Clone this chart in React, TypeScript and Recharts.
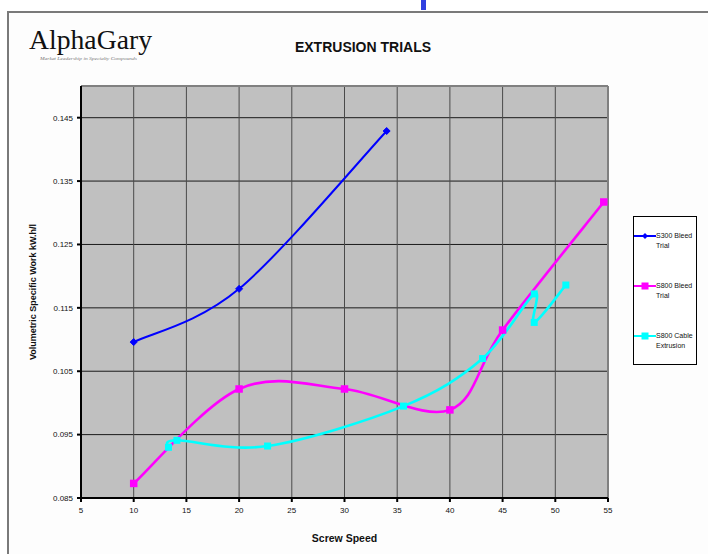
import React from 'react';
import { LineChart, Line, XAxis, YAxis, CartesianGrid, ReferenceLine, Label } from 'recharts';

// Screw speed (rpm) vs volumetric specific work (kW.h/l) per trial
const s300SpeedValues = [10, 20, 34];
const s300WorkValues = [0.1096, 0.118, 0.1429];

const s800BleedSpeedValues = [10, 20, 30, 40, 45, 54.6];
const s800BleedWorkValues = [0.0873, 0.1022, 0.1022, 0.0989, 0.1115, 0.1317];

const s800CableSpeedValues = [13.3, 14.1, 22.7, 35.6, 43.1, 48, 48, 51];
const s800CableWorkValues = [0.093, 0.0941, 0.0932, 0.0995, 0.107, 0.1172, 0.1127, 0.1186];

const seriesNames = ['S300 Bleed Trial', 'S800 Bleed Trial', 'S800 Cable Extrusion'];
const seriesLegendLines = [['S300 Bleed', 'Trial'], ['S800 Bleed', 'Trial'], ['S800 Cable', 'Extrusion']];
const seriesColors = ['#0000ff', '#ff00ff', '#00ffff'];

const xTicks = [5, 10, 15, 20, 25, 30, 35, 40, 45, 50, 55];
const yTicks = [0.085, 0.095, 0.105, 0.115, 0.125, 0.135, 0.145];
const yDomain = [0.085, 0.15];

const chartTitle = 'EXTRUSION TRIALS';
const xAxisTitle = 'Screw Speed';
const yAxisTitle = 'Volumetric Specific Work kW.h/l';

const zip = (xs: number[], ys: number[]) => xs.map((x, i) => ({ x, y: ys[i] }));
const s300Data = zip(s300SpeedValues, s300WorkValues);
const s800BleedData = zip(s800BleedSpeedValues, s800BleedWorkValues);
const s800CableData = zip(s800CableSpeedValues, s800CableWorkValues);

const FONT = "Arial, 'Liberation Sans', sans-serif";

// Spreadsheet-style smoothed line: cubic Bezier segments whose control
// points follow the neighbouring points (uniform Catmull-Rom).
const smoothCurve = (context: any) => {
  let pts: [number, number][] = [];
  return {
    areaStart() {},
    areaEnd() {},
    lineStart() {
      pts = [];
    },
    point(x: number, y: number) {
      pts.push([+x, +y]);
    },
    lineEnd() {
      const n = pts.length;
      if (!n) return;
      context.moveTo(pts[0][0], pts[0][1]);
      for (let i = 0; i < n - 1; i++) {
        const p0 = pts[i - 1] || pts[i];
        const p1 = pts[i];
        const p2 = pts[i + 1];
        const p3 = pts[i + 2] || p2;
        context.bezierCurveTo(
          p1[0] + (p2[0] - p0[0]) / 6,
          p1[1] + (p2[1] - p0[1]) / 6,
          p2[0] - (p3[0] - p1[0]) / 6,
          p2[1] - (p3[1] - p1[1]) / 6,
          p2[0],
          p2[1]
        );
      }
    },
  };
};

const diamondDot = (color: string, r: number) => (props: any) => {
  const { cx, cy, index } = props;
  if (cx == null || cy == null) return <g key={index} />;
  return (
    <polygon
      key={index}
      points={`${cx},${cy - r} ${cx + r},${cy} ${cx},${cy + r} ${cx - r},${cy}`}
      fill={color}
      stroke={color}
    />
  );
};

const squareDot = (color: string, s: number) => (props: any) => {
  const { cx, cy, index } = props;
  if (cx == null || cy == null) return <g key={index} />;
  return <rect key={index} x={cx - s / 2} y={cy - s / 2} width={s} height={s} fill={color} />;
};

const LegendSwatch = ({ color, kind }: { color: string; kind: 'diamond' | 'square' }) => (
  <svg width={22} height={10} style={{ display: 'block' }}>
    <line x1={0} y1={5} x2={22} y2={5} stroke={color} strokeWidth={2} />
    {kind === 'diamond' ? (
      <polygon points="11,2 14,5 11,8 8,5" fill={color} />
    ) : (
      <rect x={7.5} y={1.5} width={7} height={7} fill={color} />
    )}
  </svg>
);

export default function App() {
  const legendTops = [231, 281, 331];
  const kinds: ('diamond' | 'square')[] = ['diamond', 'square', 'square'];
  return (
    <div
      style={{
        position: 'absolute',
        left: 0,
        top: 0,
        width: 708,
        height: 554,
        background: '#ffffff',
        overflow: 'hidden',
        fontFamily: FONT,
      }}
    >
      {/* page frame */}
      <div
        style={{
          position: 'absolute',
          left: 7,
          top: 11,
          width: 720,
          height: 560,
          borderLeft: '2px solid #7a7a7a',
          borderTop: '2px solid #7a7a7a',
          background: '#fdfdfd',
        }}
      />
      <div style={{ position: 'absolute', left: 421, top: 0, width: 5, height: 10, background: '#3040e0' }} />

      {/* company logo */}
      <svg style={{ position: 'absolute', left: 0, top: 0 }} width={200} height={70}>
        <text
          x={29}
          y={49}
          fontFamily="'Liberation Serif', 'Times New Roman', serif"
          fontSize={28}
          textLength={123}
          lengthAdjust="spacingAndGlyphs"
          fill="#111"
        >
          AlphaGary
        </text>
        <text
          x={40}
          y={60}
          fontFamily="'Liberation Serif', serif"
          fontStyle="italic"
          fontSize={4.5}
          textLength={97}
          lengthAdjust="spacingAndGlyphs"
          fill="#777"
        >
          Market Leadership in Specialty Compounds
        </text>
      </svg>

      <div
        style={{
          position: 'absolute',
          left: 263,
          width: 200,
          top: 39,
          textAlign: 'center',
          fontWeight: 'bold',
          fontSize: 14,
          color: '#111',
        }}
      >
        {chartTitle}
      </div>

      <div style={{ position: 'absolute', left: 0, top: 0 }}>
        <LineChart width={708} height={554} margin={{ top: 86, right: 100, bottom: 26, left: 21 }}>
          <CartesianGrid vertical={false} stroke="#1a1a1a" strokeWidth={1} fill="#c0c0c0" fillOpacity={1} />
          <CartesianGrid horizontal={false} stroke="#4a4a4a" strokeWidth={1} />
          <XAxis
            type="number"
            dataKey="x"
            domain={[5, 55]}
            ticks={xTicks}
            allowDataOverflow
            height={30}
            tickSize={4}
            tickMargin={5}
            stroke="#000"
            strokeWidth={2}
            tick={{ fontSize: 8, fill: '#111', fontFamily: FONT }}
          >
            <Label
              content={(props: any) => {
                const vb = props.viewBox;
                return (
                  <text
                    x={vb.x + vb.width / 2}
                    y={vb.y + vb.height + 14}
                    textAnchor="middle"
                    fontFamily={FONT}
                    fontWeight="bold"
                    fontSize={10.5}
                    fill="#111"
                  >
                    {xAxisTitle}
                  </text>
                );
              }}
            />
          </XAxis>
          <YAxis
            type="number"
            domain={yDomain}
            ticks={yTicks}
            allowDataOverflow
            width={60}
            tickSize={4}
            tickMargin={4}
            stroke="#000"
            strokeWidth={2}
            tickFormatter={(v: number) => v.toFixed(3)}
            tick={{ fontSize: 8, fill: '#111', fontFamily: FONT }}
          >
            <Label
              content={(props: any) => {
                const vb = props.viewBox;
                const cx = vb.x + 15;
                const cy = vb.y + vb.height / 2;
                return (
                  <text
                    x={cx}
                    y={cy}
                    transform={`rotate(-90, ${cx}, ${cy})`}
                    textAnchor="middle"
                    fontFamily={FONT}
                    fontWeight="bold"
                    fontSize={9}
                    fill="#111"
                  >
                    {yAxisTitle}
                  </text>
                );
              }}
            />
          </YAxis>
          <ReferenceLine y={0.15} stroke="#808080" strokeWidth={2} />
          <ReferenceLine x={55} stroke="#808080" strokeWidth={2} />
          <Line
            data={s300Data}
            dataKey="y"
            name={seriesNames[0]}
            type={smoothCurve as any}
            stroke={seriesColors[0]}
            strokeWidth={2}
            dot={diamondDot(seriesColors[0], 3.5)}
            isAnimationActive={false}
          />
          <Line
            data={s800BleedData}
            dataKey="y"
            name={seriesNames[1]}
            type={smoothCurve as any}
            stroke={seriesColors[1]}
            strokeWidth={2.6}
            dot={squareDot(seriesColors[1], 7.5)}
            isAnimationActive={false}
          />
          <Line
            data={s800CableData}
            dataKey="y"
            name={seriesNames[2]}
            type={smoothCurve as any}
            stroke={seriesColors[2]}
            strokeWidth={2.6}
            dot={squareDot(seriesColors[2], 7)}
            isAnimationActive={false}
          />
        </LineChart>
      </div>

      {/* legend */}
      <div
        style={{
          position: 'absolute',
          left: 633,
          top: 216,
          width: 62,
          height: 147,
          border: '1px solid #000',
          background: '#ffffff',
        }}
      />
      {seriesLegendLines.map((lines, i) => (
        <div
          key={seriesNames[i]}
          style={{
            position: 'absolute',
            left: 634,
            top: legendTops[i],
            display: 'flex',
            alignItems: 'flex-start',
          }}
        >
          <div>
            <LegendSwatch color={seriesColors[i]} kind={kinds[i]} />
          </div>
          <div style={{ fontSize: 7, lineHeight: '9.5px', color: '#111' }}>
            {lines.map((l) => (
              <div key={l}>{l}</div>
            ))}
          </div>
        </div>
      ))}
    </div>
  );
}
